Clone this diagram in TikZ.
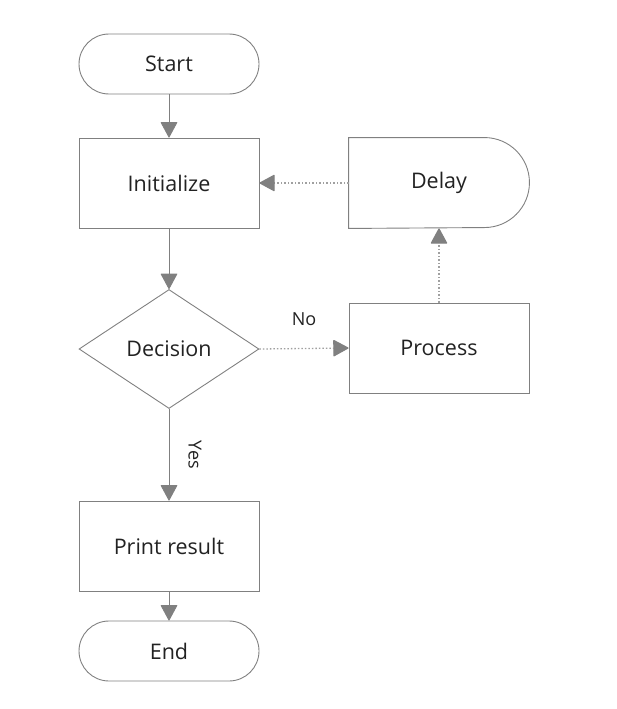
\documentclass[tikz,border=0pt]{standalone}
\usepackage{fontspec}
\setmainfont{Open Sans}
\usetikzlibrary{shapes.geometric,arrows.meta}

\definecolor{linegray}{HTML}{808080}
\definecolor{dotgray}{HTML}{A0A0A0}
\definecolor{textgray}{HTML}{222222}

\tikzset{
  box/.style={shape=rectangle, draw=linegray, line width=0.9pt, minimum width=180pt, minimum height=90pt, inner sep=0pt, text=textgray, font=\fontsize{21.5}{25}\selectfont},
  terminal/.style={box, rounded corners=30pt, minimum height=60pt},
  decide/.style={box, shape=diamond, minimum width=180pt, minimum height=119pt},
  flow/.style={color=linegray, line width=0.9pt, -{Triangle[length=16pt,width=17pt,round]}},
  loopflow/.style={flow, dotgray, line width=1.3pt, dash pattern=on 1.5pt off 2pt, -{Triangle[length=16pt,width=17pt,round,color=linegray]}},
  edgelabel/.style={text=textgray, font=\fontsize{18}{21}\selectfont, inner sep=0pt}
}

\begin{document}
\begin{tikzpicture}[x=1pt, y=1pt]

	\useasboundingbox (0,0) rectangle (617,-709);

	\node[terminal] (start)    at (169, -64)  {Start};
	\node[box]      (init)     at (169, -183) {Initialize};
	\node[decide]   (decision) at (169, -349) {Decision};
	\node[box]      (print)    at (169, -546) {Print result};
	\node[terminal] (stop)     at (169, -651) {End};
	\node[box]      (process)  at (439, -348) {Process};
	\node[box, draw=none] (delay) at (439, -183) {Delay};

	% delay outline: flat left side, round right side
	\draw[draw=linegray, line width=0.9pt] (delay.south west) -- (delay.north west)
	    -- ([xshift=-45pt]delay.north east) arc[start angle=90, end angle=-90, radius=45pt] -- cycle;

	\path[flow] (start) edge (init);
	\path[flow] (init) edge (decision);
	\draw[flow] (decision.south) -- (print.north)
	    node[edgelabel, midway, xshift=26pt, rotate=-90] (yes) {Yes};
	\path[flow] (print) edge (stop);

	\draw[loopflow] (decision.east) -- (process.west)
	    node[edgelabel, midway, yshift=29pt] (no) {No};
	\path[loopflow] (process) edge (delay);
	\path[loopflow] (delay) edge (init);

\end{tikzpicture}
\end{document}
